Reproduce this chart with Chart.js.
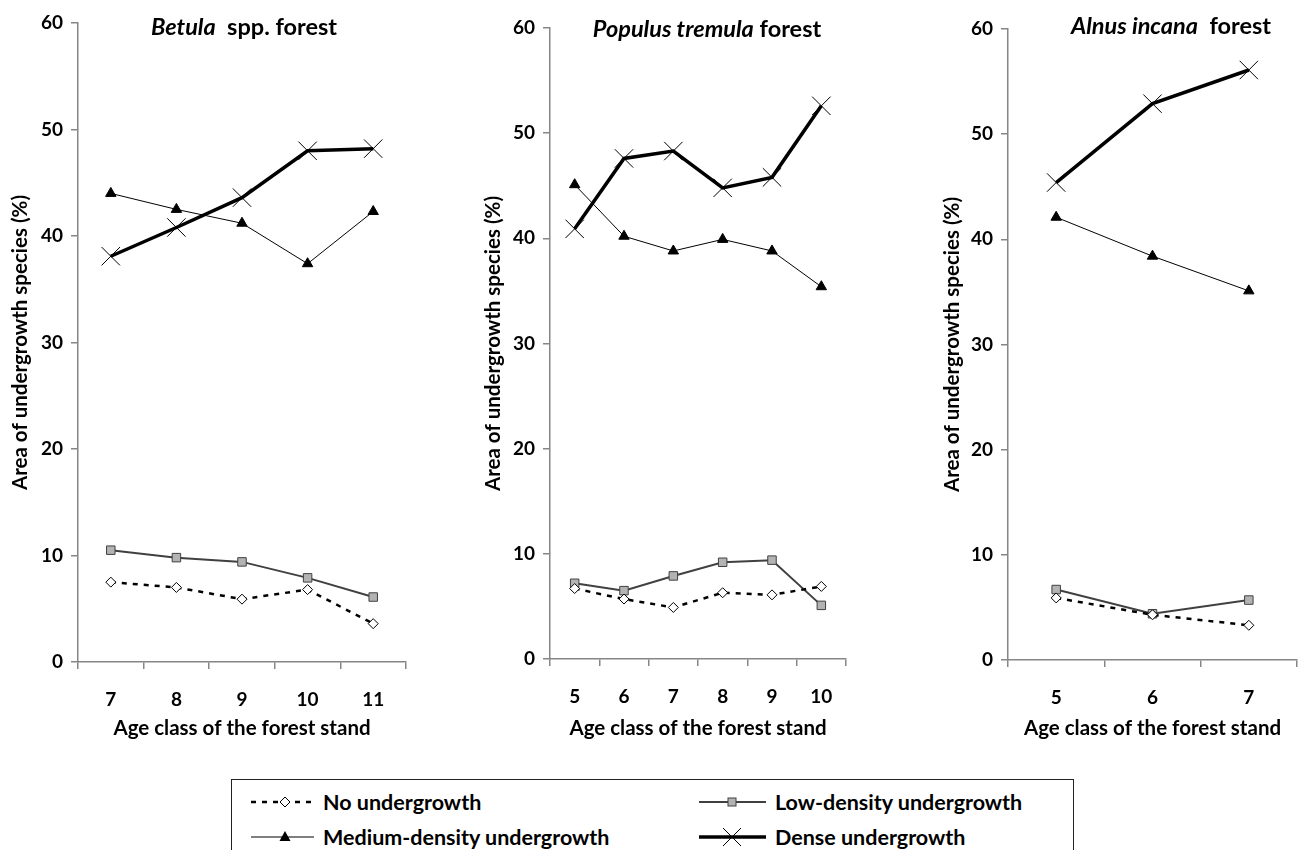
<!DOCTYPE html>
<html>
<head>
<meta charset="utf-8">
<script src="https://cdn.jsdelivr.net/npm/chart.js@4"></script>
<style>
  html, body { margin: 0; padding: 0; background: #fff; }
  body { width: 1311px; height: 850px; position: relative; overflow: hidden; font-family: Lato, "Open Sans", sans-serif; }
  .panel { position: absolute; top: 0; height: 745px; }
  .panel canvas { display: block; }
  #legend { position: absolute; left: 231px; top: 779px; width: 843px; height: 90px; border: 1px solid #222; box-sizing: border-box; }
  #legend svg { position: absolute; left: 0; top: 0; }
  .lt { position: absolute; font: bold 21.5px Lato, sans-serif; color: #000; line-height: 26px; white-space: nowrap; }
</style>
</head>
<body>
<div class="panel" style="left:0;width:420px"><canvas id="c1"></canvas></div>
<div class="panel" style="left:440px;width:420px"><canvas id="c2"></canvas></div>
<div class="panel" style="left:880px;width:431px"><canvas id="c3"></canvas></div>

<div id="legend">
  <svg width="843" height="90" viewBox="0 0 843 90">
    <line x1="19" y1="22" x2="82" y2="22" stroke="#000" stroke-width="2.5" stroke-dasharray="5,6"/>
    <polygon points="53,17 58,22 53,27 48,22" fill="#fff" stroke="#000" stroke-width="1"/>
    <line x1="467" y1="22" x2="534" y2="22" stroke="#404040" stroke-width="2"/>
    <rect x="496" y="18" width="8" height="8" fill="#b3b3b3" stroke="#404040" stroke-width="1"/>
    <line x1="19" y1="57" x2="82" y2="57" stroke="#000" stroke-width="1"/>
    <polygon points="53,51 58.5,61 47.5,61" fill="#000"/>
    <line x1="467" y1="57" x2="534" y2="57" stroke="#000" stroke-width="3.5"/>
    <line x1="491" y1="48" x2="509" y2="66" stroke="#000" stroke-width="1"/>
    <line x1="491" y1="66" x2="509" y2="48" stroke="#000" stroke-width="1"/>
  </svg>
  <span class="lt" style="left:91px;top:9px">No undergrowth</span>
  <span class="lt" style="left:543px;top:9px">Low-density undergrowth</span>
  <span class="lt" style="left:91px;top:44px">Medium-density undergrowth</span>
  <span class="lt" style="left:543px;top:44px">Dense undergrowth</span>
</div>

<script>
// ---- Data ----
const seriesNames = ['No undergrowth', 'Low-density undergrowth', 'Medium-density undergrowth', 'Dense undergrowth'];

const betulaAges   = ['7', '8', '9', '10', '11'];
const betulaNone   = [7.5, 7.0, 5.9, 6.8, 3.6];
const betulaLow    = [10.5, 9.8, 9.4, 7.9, 6.1];
const betulaMedium = [44.0, 42.5, 41.2, 37.4, 42.3];
const betulaDense  = [38.1, 40.8, 43.6, 48.0, 48.2];

const populusAges   = ['5', '6', '7', '8', '9', '10'];
const populusNone   = [6.7, 5.7, 4.9, 6.3, 6.1, 6.9];
const populusLow    = [7.2, 6.5, 7.9, 9.2, 9.4, 5.1];
const populusMedium = [45.1, 40.2, 38.8, 39.9, 38.8, 35.4];
const populusDense  = [40.9, 47.6, 48.3, 44.8, 45.8, 52.6];

const alnusAges   = ['5', '6', '7'];
const alnusNone   = [5.9, 4.3, 3.3];
const alnusLow    = [6.7, 4.4, 5.7];
const alnusMedium = [42.1, 38.4, 35.1];
const alnusDense  = [45.4, 52.9, 56.1];

const yTicks = [0, 10, 20, 30, 40, 50, 60];
const xAxisTitle = 'Age class of the forest stand';
const yAxisTitle = 'Area of undergrowth species (%)';

// ---- Styling ----
const FONT = 'Lato, "Open Sans", sans-serif';
const AXIS = '#868686';
const AXIS_TITLE_SIZE = 20.5;
const TICK_SIZE = 19;

function datasets(none, low, med, dense) {
  return [
    { label: seriesNames[0], data: none, borderColor: '#000', borderWidth: 2.5, borderDash: [5, 6],
      pointStyle: 'rectRot', pointRadius: 5, pointBackgroundColor: '#fff', pointBorderColor: '#000', pointBorderWidth: 1 },
    { label: seriesNames[1], data: low, borderColor: '#404040', borderWidth: 2,
      pointStyle: 'rect', pointRadius: 6, pointBackgroundColor: '#b3b3b3', pointBorderColor: '#404040', pointBorderWidth: 1 },
    { label: seriesNames[2], data: med, borderColor: '#000', borderWidth: 1,
      pointStyle: 'triangle', pointRadius: 6, pointBackgroundColor: '#000', pointBorderColor: '#000', pointBorderWidth: 1 },
    { label: seriesNames[3], data: dense, borderColor: '#000', borderWidth: 3.5,
      pointStyle: 'crossRot', pointRadius: 13, pointBackgroundColor: '#000', pointBorderColor: '#000', pointBorderWidth: 1 }
  ].map(d => Object.assign({ fill: false, tension: 0, pointHoverRadius: d.pointRadius }, d));
}

const titlePlugin = {
  id: 'panelTitle',
  afterDraw(chart, args, opts) {
    const { ctx } = chart;
    ctx.save();
    const size = opts.size || 20;
    const fonts = opts.parts.map(p => (p.italic ? 'italic ' : '') + 'bold ' + size + 'px ' + FONT);
    let total = 0;
    const widths = opts.parts.map((p, i) => { ctx.font = fonts[i]; const w = ctx.measureText(p.text).width; total += w; return w; });
    let x = opts.cx - total / 2;
    ctx.fillStyle = '#000';
    ctx.textBaseline = 'middle';
    ctx.textAlign = 'left';
    opts.parts.forEach((p, i) => { ctx.font = fonts[i]; ctx.fillText(p.text, x, opts.cy); x += widths[i]; });
    ctx.restore();
  }
};

function makeChart(id, ages, ds, geom, titleParts, titleCx, titleCy) {
  const el = document.getElementById(id);
  const wrap = el.parentElement;
  const W = wrap.clientWidth, H = 745;
  const lh = AXIS_TITLE_SIZE * 1.2;
  return new Chart(el, {
    type: 'line',
    data: { labels: ages, datasets: ds },
    options: {
      responsive: false,
      animation: false,
      maintainAspectRatio: false,
      layout: { padding: { top: geom.top, right: W - geom.right, left: 0, bottom: 0 } },
      plugins: {
        legend: { display: false },
        tooltip: { enabled: false },
        panelTitle: { parts: titleParts, cx: titleCx, cy: titleCy, size: 23.5 }
      },
      scales: {
        x: {
          type: 'category',
          offset: true,
          grid: { display: true, offset: true, drawOnChartArea: false, drawTicks: true, tickLength: 7, color: AXIS, lineWidth: 1.5 },
          border: { display: true, color: AXIS, width: 1.5 },
          ticks: { color: '#000', font: { family: FONT, size: TICK_SIZE, weight: 'bold' }, padding: 19, maxRotation: 0 },
          title: { display: true, text: xAxisTitle, color: '#000', font: { family: FONT, size: AXIS_TITLE_SIZE, weight: 'bold' }, padding: { top: 0, bottom: H - 728 - lh / 2 } },
          afterFit(scale) { scale.height = H - geom.bottom; }
        },
        y: {
          min: 0, max: 60,
          afterBuildTicks(scale) { scale.ticks = yTicks.map(v => ({ value: v })); },
          grid: { display: true, drawOnChartArea: false, drawTicks: true, tickLength: 7, color: AXIS, lineWidth: 1.5 },
          border: { display: true, color: AXIS, width: 1.5 },
          ticks: { color: '#000', font: { family: FONT, size: TICK_SIZE, weight: 'bold' }, padding: 8 },
          title: { display: true, text: yAxisTitle, color: '#000', font: { family: FONT, size: AXIS_TITLE_SIZE, weight: 'bold' }, padding: { top: geom.ytitle - lh / 2, bottom: 0 } },
          afterFit(scale) { scale.width = geom.left; }
        }
      }
    },
    plugins: [titlePlugin],
  });
}

function sizeCanvas(id) {
  const el = document.getElementById(id);
  el.width = el.parentElement.clientWidth; el.height = 745;
  el.style.width = el.width + 'px'; el.style.height = '745px';
}
['c1', 'c2', 'c3'].forEach(sizeCanvas);

makeChart('c1', betulaAges, datasets(betulaNone, betulaLow, betulaMedium, betulaDense),
  { left: 78, right: 412, top: 23, bottom: 662, ytitle: 20 },
  [{ text: 'Betula', italic: true }, { text: '  spp. forest' }], 244, 27);
makeChart('c2', populusAges, datasets(populusNone, populusLow, populusMedium, populusDense),
  { left: 110, right: 410, top: 28, bottom: 659, ytitle: 53 },
  [{ text: 'Populus tremula', italic: true }, { text: ' forest' }], 267, 29);
makeChart('c3', alnusAges, datasets(alnusNone, alnusLow, alnusMedium, alnusDense),
  { left: 128, right: 428, top: 29, bottom: 660, ytitle: 72 },
  [{ text: 'Alnus incana', italic: true }, { text: '  forest' }], 291, 26);
</script>
</body>
</html>
